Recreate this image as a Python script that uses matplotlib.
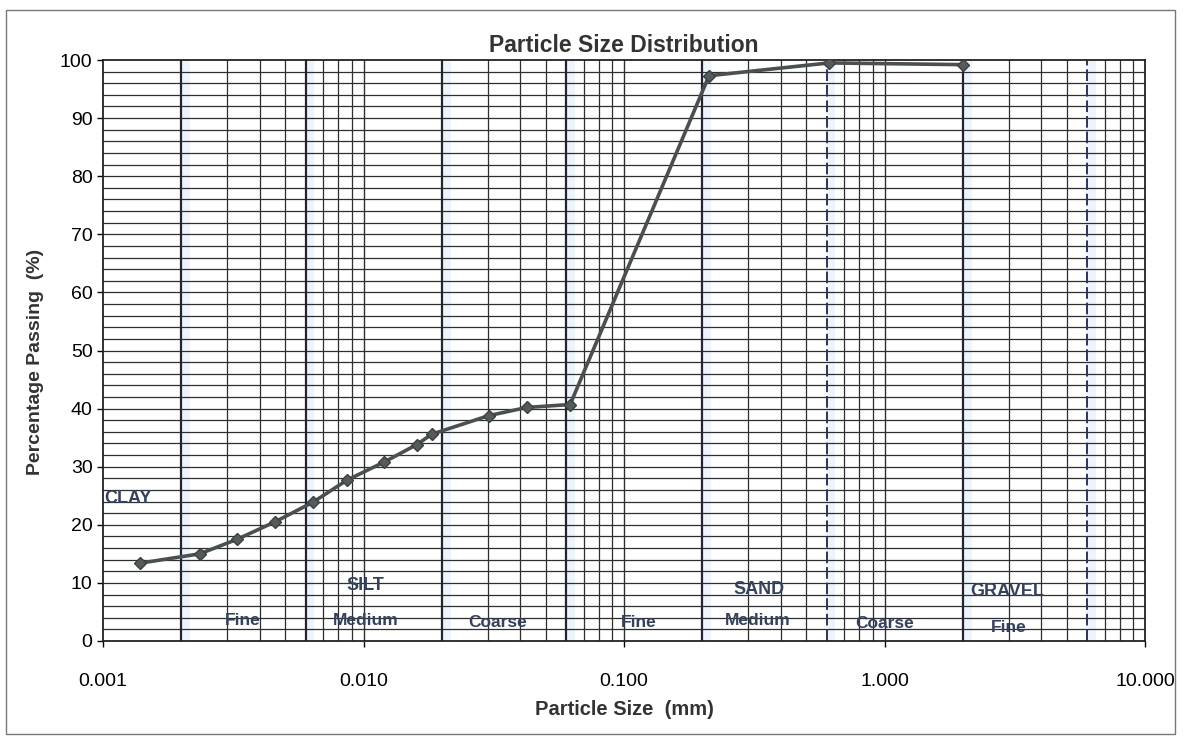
import numpy as np
import matplotlib
matplotlib.use("Agg")
import matplotlib.pyplot as plt
from matplotlib.patches import Rectangle

# grading test results
size_mm = [0.00139, 0.00235, 0.00327, 0.00457, 0.0064, 0.00865, 0.0120,
           0.0160, 0.0183, 0.0303, 0.0424, 0.0621, 0.212, 0.612, 2.0]
passing = [13.4, 15.0, 17.5, 20.5, 23.9, 27.7, 30.8,
           33.8, 35.6, 38.8, 40.2, 40.7, 97.3, 99.5, 99.2]

# soil class boundaries (mm)
boundaries = [0.002, 0.006, 0.02, 0.06, 0.2, 0.6, 2.0, 6.0]
dashed_bounds = [0.6, 6.0]

# zone labels: text, x, y
main_labels = [("CLAY", 0.00101, 24.5), ("SILT", 0.0102, 9.5),
               ("SAND", 0.33, 8.8), ("GRAVEL", 2.95, 8.6)]
sub_labels = [("Fine", 0.00345, 3.6), ("Medium", 0.0102, 3.6),
              ("Coarse", 0.0326, 3.2), ("Fine", 0.114, 3.2),
              ("Medium", 0.325, 3.5), ("Coarse", 1.0, 3.0),
              ("Fine", 3.0, 2.4)]

x_ticks = [0.001, 0.01, 0.1, 1, 10]
x_ticklabels = ["0.001", "0.010", "0.100", "1.000", "10.000"]

plt.rcParams['font.family'] = ['Liberation Sans', 'DejaVu Sans']

fig = plt.figure(figsize=(11.83, 7.4), dpi=100)
ax = fig.add_axes([0.0871, 0.1338, 0.8808, 0.7851])
ax.set_xscale("log")
ax.set_xlim(0.001, 10)
ax.set_ylim(0, 100)

grid_col = "#2e2e2e"
# horizontal grid every 2 %
for y in np.arange(2, 100, 2):
    ax.axhline(y, color=grid_col, lw=0.9, zorder=1)
# vertical log minor grid
for dec in [0.001, 0.01, 0.1, 1]:
    for k in range(2, 10):
        xv = dec * k
        if not any(np.isclose(xv, b) for b in boundaries):
            ax.axvline(xv, color=grid_col, lw=0.9, zorder=1)
    if dec > 0.001:
        ax.axvline(dec, color=grid_col, lw=1.0, zorder=1)

# class boundaries with faint blue strip
for b in boundaries:
    ax.axvspan(b, b * 1.08, color="#e3eef9", alpha=0.6, lw=0, zorder=0)
    if b in dashed_bounds:
        ax.axvline(b, color="#2a3560", lw=1.4, ls=(0, (6, 2)), zorder=2)
    else:
        ax.axvline(b, color="#222530", lw=1.6, zorder=2)

ax.plot(size_mm, passing, color="#4a4f4f", lw=2.6, marker="D", ms=6,
        mfc="#555a5a", mec="#3c4040", zorder=5)

lab_col = "#34425e"
for t, x, y in main_labels:
    ax.text(x, y, t, fontsize=13, color=lab_col, fontweight="bold",
            ha="left" if t == "CLAY" else "center", va="center", zorder=6)
for t, x, y in sub_labels:
    ax.text(x, y, t, fontsize=12.5, color=lab_col, fontweight="bold",
            ha="center", va="center", zorder=6)

ax.set_xticks(x_ticks)
ax.set_xticklabels(x_ticklabels, fontsize=14)
ax.xaxis.set_minor_locator(matplotlib.ticker.NullLocator())
ax.set_yticks(np.arange(0, 101, 10))
ax.tick_params(axis="y", labelsize=14, length=4, width=1)
ax.tick_params(axis="x", length=4, width=1, pad=19)
for s in ax.spines.values():
    s.set_color("#222222")
    s.set_linewidth(1.3)

ax.set_xlabel("Particle Size  (mm)", fontsize=14.5, fontweight="bold",
              color="#333333", labelpad=7)
ax.set_ylabel("Percentage Passing  (%)", fontsize=14, fontweight="bold",
              color="#333333", labelpad=8)
ax.yaxis.set_label_coords(-0.057, 0.48)
ax.set_title("Particle Size Distribution", fontsize=16.5, fontweight="bold",
             color="#333333", pad=6)

# outer frame around the chart area
fig.patches.append(Rectangle((0.005, 0.008), 0.988, 0.978, transform=fig.transFigure,
                             fill=False, edgecolor="#777777", lw=1))

fig.savefig("out.png", dpi=100)
